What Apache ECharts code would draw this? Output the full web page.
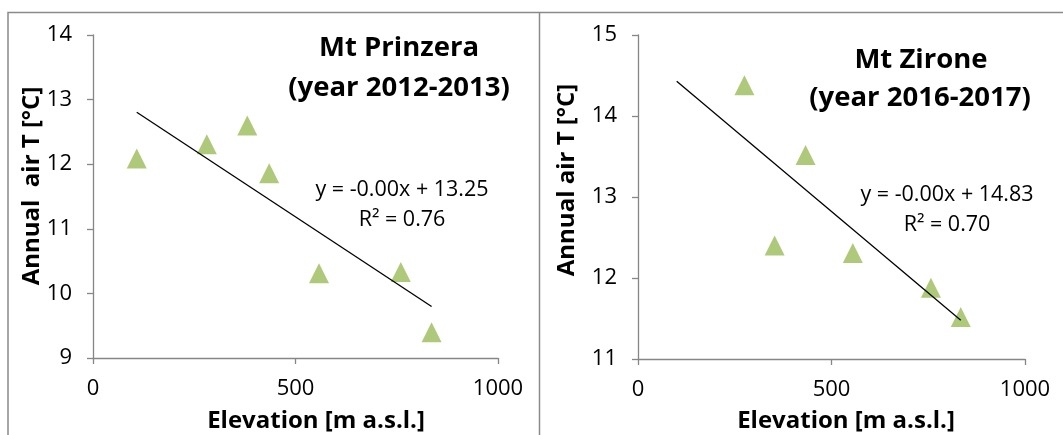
<!DOCTYPE html>
<html>
<head>
<meta charset="utf-8">
<script src="https://cdn.jsdelivr.net/npm/echarts@6/dist/echarts.min.js"></script>
<style>
  html, body { margin: 0; padding: 0; background: #fff; }
  #chart { width: 1063px; height: 435px; }
</style>
</head>
<body>
<div id="chart"></div>
<script>
// Mt Prinzera station network (2012-2013)
const prinzeraElevation = [108, 281, 381, 435, 558, 760, 836];
const prinzeraTemp = [12.09, 12.31, 12.60, 11.86, 10.31, 10.33, 9.40];
// Mt Zirone station network (2016-2017)
const zironeElevation = [275, 353, 433, 555, 757, 834];
const zironeTemp = [14.38, 12.40, 13.52, 12.31, 11.88, 11.52];

// Linear trend parameters (slope per metre, intercept, R²) and fitted x-range
const trendSlope = [-0.00413, -0.00402];
const trendIntercept = [13.25, 14.83];
const trendR2 = [0.76, 0.70];
const trendFrom = [108, 100];
const trendTo = [836, 834];

const panelTitles = [['Mt Prinzera', '(year 2012-2013)'], ['Mt Zirone', '(year 2016-2017)']];
const yAxisNames = ['Annual  air T [°C]', 'Annual air T [°C]'];
const xAxisName = 'Elevation [m a.s.l.]';
const yRanges = [[9, 14], [11, 15]];

const FONT = '"Open Sans", "Liberation Sans", sans-serif';
const AXIS_COLOR = '#868686';
const MARKER_COLOR = '#9BBB59';

function trendPoints(i) {
  return [trendFrom[i], trendTo[i]].map(x => [x, trendIntercept[i] + trendSlope[i] * x]);
}
function eqText(i) {
  return 'y = ' + trendSlope[i].toFixed(2) + 'x + ' + trendIntercept[i].toFixed(2);
}

const grids = [
  { left: 93, top: 35, width: 405, height: 323 },
  { left: 638, top: 35, width: 387, height: 324 }
];

function xAxisFor(i) {
  return {
    gridIndex: i, type: 'value', min: 0, max: 1000, interval: 500,
    axisLine: { show: true, lineStyle: { color: AXIS_COLOR, width: 1.3 } },
    axisTick: { show: true, length: 6, lineStyle: { color: AXIS_COLOR, width: 1.3 } },
    axisLabel: { color: '#000', fontFamily: FONT, fontSize: 22, margin: 20,
                 formatter: v => String(v) },
    splitLine: { show: false }
  };
}
function yAxisFor(i) {
  return {
    gridIndex: i, type: 'value', min: yRanges[i][0], max: yRanges[i][1], interval: 1,
    axisLine: { show: true, lineStyle: { color: AXIS_COLOR, width: 1.3 } },
    axisTick: { show: true, length: 6, lineStyle: { color: AXIS_COLOR, width: 1.3 } },
    axisLabel: { color: '#000', fontFamily: FONT, fontSize: 22, margin: 21,
                 formatter: v => String(v) },
    splitLine: { show: false }
  };
}

function text(x, y, str, size, weight, rot) {
  return {
    type: 'text', x: x, y: y, rotation: rot || 0, z: 10,
    style: {
      text: str, fill: '#000', font: weight + ' ' + size + 'px ' + FONT,
      align: 'center', verticalAlign: 'middle'
    }
  };
}

const graphics = [
  // panel frames
  { type: 'polyline', shape: { points: [[8, 435], [8, 12.5], [1063, 12.5]] },
    style: { stroke: '#8a8a8a', lineWidth: 1.5, fill: null } },
  { type: 'line', shape: { x1: 539.5, y1: 12.5, x2: 539.5, y2: 435 },
    style: { stroke: '#8a8a8a', lineWidth: 1.5 } },
  // panel titles
  text(399, 48, panelTitles[0][0], 27.5, 'bold'),
  text(399, 88, panelTitles[0][1], 27.5, 'bold'),
  text(921, 60, panelTitles[1][0], 27.5, 'bold'),
  text(920, 98, panelTitles[1][1], 27.5, 'bold'),
  // trend equations
  text(402, 190, eqText(0), 21.5, 'normal'),
  text(402, 220, 'R² = ' + trendR2[0].toFixed(2), 21.5, 'normal'),
  text(947, 195, eqText(1), 21.5, 'normal'),
  text(947, 225, 'R² = ' + trendR2[1].toFixed(2), 21.5, 'normal'),
  // axis names
  text(32, 186, yAxisNames[0], 24, 'bold', Math.PI / 2),
  text(567, 180, yAxisNames[1], 24, 'bold', Math.PI / 2),
  text(316, 421, xAxisName, 24, 'bold'),
  text(846, 421, xAxisName, 24, 'bold')
];

const chart = echarts.init(document.getElementById('chart'), null, { renderer: 'canvas' });
chart.setOption({
  animation: false,
  backgroundColor: '#fff',
  grid: grids,
  xAxis: [xAxisFor(0), xAxisFor(1)],
  yAxis: [yAxisFor(0), yAxisFor(1)],
  series: [
    { type: 'scatter', xAxisIndex: 0, yAxisIndex: 0, symbol: 'triangle', symbolSize: 20,
      itemStyle: { color: MARKER_COLOR },
      data: prinzeraElevation.map((x, k) => [x, prinzeraTemp[k]]) },
    { type: 'scatter', xAxisIndex: 1, yAxisIndex: 1, symbol: 'triangle', symbolSize: 20,
      itemStyle: { color: MARKER_COLOR },
      data: zironeElevation.map((x, k) => [x, zironeTemp[k]]) },
    { type: 'line', xAxisIndex: 0, yAxisIndex: 0, showSymbol: false, symbol: 'none', z: 5,
      lineStyle: { color: '#000', width: 1.3 }, data: trendPoints(0) },
    { type: 'line', xAxisIndex: 1, yAxisIndex: 1, showSymbol: false, symbol: 'none', z: 5,
      lineStyle: { color: '#000', width: 1.3 }, data: trendPoints(1) }
  ],
  graphic: graphics
});
</script>
</body>
</html>
